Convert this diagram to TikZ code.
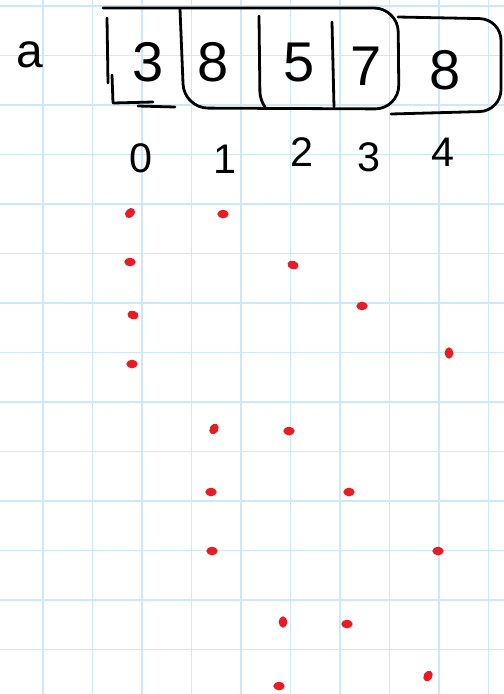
\documentclass[tikz,border=0pt]{standalone}
\usepackage{fontspec}
\setmainfont{Liberation Sans}
\usetikzlibrary{shapes.geometric}
\definecolor{gridblue}{RGB}{206,232,248}
\definecolor{inkred}{RGB}{232,28,36}
\tikzset{
  gridline/.style={draw=gridblue, line width=1.4pt},
  ink/.style={draw=black, line width=2.1pt, line cap=round, line join=round},
  bigdigit/.style={inner sep=0pt, font=\fontsize{42}{42}\selectfont},
  idxdigit/.style={inner sep=0pt, font=\fontsize{31}{31}\selectfont},
  letter/.style={inner sep=0pt, font=\fontsize{36}{36}\selectfont},
  dotmark/.style={shape=ellipse, fill=inkred, inner sep=0pt, minimum width=8.5pt, minimum height=6.5pt}
}
\begin{document}
\begin{tikzpicture}[x=0.75pt, y=-0.75pt]
\useasboundingbox (0,0) rectangle (504,694);
\fill[white] (0,0) rectangle (504,694);
% grid
\foreach \i in {0,...,9} { \draw[gridline] ({43+49.5*\i},0) -- ({43+49.5*\i},694); }
\foreach \j in {0,...,13} { \draw[gridline] (0,{6+49.5*\j}) -- (504,{6+49.5*\j}); }
% array label
\node[letter] (lbl) at (30,55) {a};
% boxes
\draw[ink, rounded corners=18] (103,8) -- (398,8) -- (399,109) -- (184,108) -- (180,9);
\draw[ink, rounded corners=16] (398,17) -- (501,19) -- (501,111) -- (391,114);
\draw[ink] (107,18) -- (108,83);
\draw[ink] (112,75) -- (113,103) -- (153,102);
\draw[ink] (138,106) -- (175,107);
\draw[ink, rounded corners=6] (259,16) -- (260,100) -- (265,107);
\draw[ink] (332,22) -- (334,107);
% values
\node[bigdigit] (v0) at (148,62) {3};
\node[bigdigit] (v1) at (213,62) {8};
\node[bigdigit] (v2) at (299,63) {5};
\node[bigdigit] (v3) at (366,66) {7};
\node[bigdigit] (v4) at (445,70) {8};
% indices
\node[idxdigit] (i0) at (141,158) {0};
\node[idxdigit] (i1) at (225,159) {1};
\node[idxdigit] (i2) at (302,152) {2};
\node[idxdigit] (i3) at (369,157) {3};
\node[idxdigit] (i4) at (443,152) {4};
% red dots
\node[dotmark, rotate=45] (d1) at (130,213) {};
\node[dotmark] (d2) at (223,214) {};
\node[dotmark] (d3) at (130,262) {};
\node[dotmark, rotate=-20] (d4) at (293,265) {};
\node[dotmark, rotate=-15] (d5) at (133,315) {};
\node[dotmark] (d6) at (362,306) {};
\node[dotmark] (d7) at (132,364) {};
\node[dotmark, rotate=90] (d8) at (449,353) {};
\node[dotmark, rotate=60] (d9) at (214,429) {};
\node[dotmark] (d10) at (289,431) {};
\node[dotmark] (d11) at (211,492) {};
\node[dotmark] (d12) at (349,492) {};
\node[dotmark] (d13) at (212,551) {};
\node[dotmark] (d14) at (438,551) {};
\node[dotmark, rotate=90] (d15) at (283,622) {};
\node[dotmark] (d16) at (347,624) {};
\node[dotmark] (d17) at (279,686) {};
\node[dotmark, rotate=60] (d18) at (428,676) {};
\end{tikzpicture}
\end{document}
